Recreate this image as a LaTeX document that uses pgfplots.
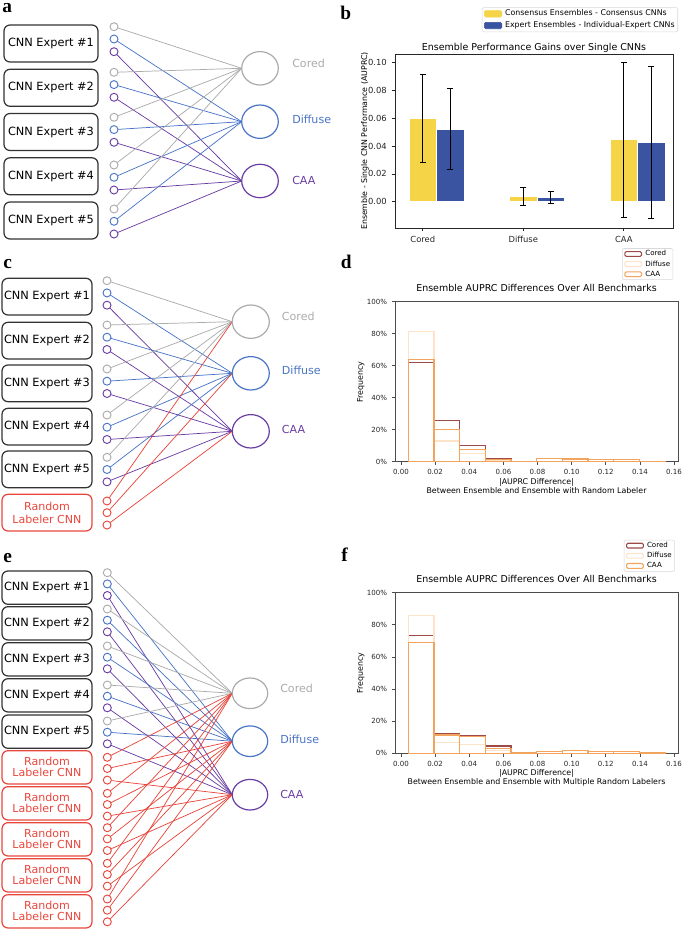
\documentclass[border=0pt]{standalone}
\usepackage{fontspec}
\setmainfont{DejaVu Sans}
\newfontfamily\letterfont{Liberation Serif}
\usepackage{pgfplots}
\pgfplotsset{compat=1.18}
\newcommand\fsz[2]{\fontsize{#1}{#2}\selectfont}
\definecolor{cgray}{HTML}{ABABAB}
\definecolor{cblue}{HTML}{4A74C6}
\definecolor{cpurp}{HTML}{6A3DA2}
\definecolor{cred}{HTML}{E8463C}
\definecolor{boxc}{HTML}{333333}
\definecolor{cyel}{HTML}{F5D547}
\definecolor{cblu}{HTML}{3A54A2}
\definecolor{hcored}{HTML}{9E4A48}
\definecolor{hdiff}{HTML}{FDE3C8}
\definecolor{hcaa}{HTML}{F2A35E}

\pgfplotsset{
  histaxis/.style={
    scale only axis, width=212.25pt, anchor=north west,
    xmin=-0.0035, xmax=0.1623, ymin=0, ymax=100,
    xtick={0,0.02,0.04,0.06,0.08,0.1,0.12,0.14,0.16},
    ytick={0,20,40,60,80,100},
    yticklabels={0\%,20\%,40\%,60\%,80\%,100\%},
    scaled x ticks=false,
    xticklabel style={/pgf/number format/.cd, fixed, fixed zerofill, precision=2},
    /pgf/number format/assume math mode=true,
    tick label style={font=\fsz{5.3}{6}, text=black!85},
    tick align=outside, tick pos=left,
    major tick length=2.4pt,
    axis line style={black!70, line width=0.6pt},
    every tick/.style={black!70, line width=0.5pt},
    title={Ensemble AUPRC Differences Over All Benchmarks},
    title style={font=\fsz{7.1}{8}, at={(axis description cs:0.5,1)}, anchor=base, yshift=1.5pt, inner sep=0pt},
    ylabel={Frequency},
    ylabel style={font=\fsz{5.9}{7}, at={(axis description cs:-0.121,0.5)}, anchor=center},
    xlabel style={font=\fsz{5.9}{6.8}, align=center, at={(axis description cs:0.5,-0.1)}, anchor=north, inner sep=0pt},
    legend style={anchor=south east, font=\fsz{5.3}{6}, draw=black!15, rounded corners=1pt, inner xsep=1.5pt, inner ysep=1pt, nodes={inner sep=0.6pt, text height=4pt, text depth=1pt}, row sep=1.4pt, /tikz/every odd column/.append style={column sep=1.8pt}},
    legend cell align=left,
  },
  hist/.style={ybar interval, fill=none, line width=0.9pt, forget plot},
}

\begin{document}
\begin{tikzpicture}
\useasboundingbox (0,0) rectangle (513.75pt,-697.5pt);
\begin{scope}[x=0.75pt,y=-0.75pt]
% panel letters
\tikzset{plet/.style={anchor=base west,inner sep=0pt,font=\letterfont\bfseries\fsz{14.5}{15}}}
\node[plet] at (2,13) {a};
\node[plet] at (340,20) {b};
\node[plet] at (3,268) {c};
\node[plet] at (340.5,269) {d};
\node[plet] at (3,562) {e};
\node[plet] at (341,561) {f};

% ---------------- Panel a ----------------
\foreach \t [count=\n] in {25,69.3,113.5,157.8,202}{
  \draw[boxc,line width=0.9pt,rounded corners=4.5pt] (4,\t) rectangle (98,\t+37);
  \node[font=\fsz{8.5}{10}] at (51,\t+18.5) {CNN Expert \#\n};
}
\foreach \y in {26.7,72.3,117.3,165,209}{
  \draw[cgray,line width=0.55pt] (114,\y) -- (241.7,68.3);
  \draw[cblue,line width=0.55pt] (114,\y+12.3) -- (241.7,121.7);
  \draw[cpurp,line width=0.55pt] (114,\y+25) -- (241.7,181);
}
\foreach \y in {26.7,72.3,117.3,165,209}{
  \draw[cgray,line width=0.7pt,fill=white] (114,\y) circle[radius=4];
  \draw[cblue,line width=0.7pt,fill=white] (114,\y+12.3) circle[radius=4];
  \draw[cpurp,line width=0.7pt,fill=white] (114,\y+25) circle[radius=4];
}
\draw[cgray,line width=0.9pt] (260,68.3) ellipse[x radius=18.3,y radius=16.7];
\draw[cblue,line width=0.9pt] (260,121.7) ellipse[x radius=18.3,y radius=16.7];
\draw[cpurp,line width=0.9pt] (260,181) ellipse[x radius=18.3,y radius=16.7];
\node[anchor=west,inner sep=0pt,text=cgray,font=\fsz{8.3}{10}] at (292,63.3) {Cored};
\node[anchor=west,inner sep=0pt,text=cblue,font=\fsz{8.3}{10}] at (292,119) {Diffuse};
\node[anchor=west,inner sep=0pt,text=cpurp,font=\fsz{8.3}{10}] at (292,180.7) {CAA};

% ---------------- Panel c ----------------
\foreach \t [count=\n] in {278.3,322.3,365,408.3,451}{
  \draw[boxc,line width=0.9pt,rounded corners=4.5pt] (2,\t) rectangle (92,\t+36.7);
  \node[font=\fsz{8.5}{10}] at (47,\t+18.3) {CNN Expert \#\n};
}
\draw[cred,line width=0.9pt,rounded corners=4.5pt] (2,494.3) rectangle (92,531);
\node[text=cred,align=center,font=\fsz{8.3}{9.75}] at (47,512.6) {Random\\Labeler CNN};
\foreach \y in {280.7,325,369,415,457.3}{
  \draw[cgray,line width=0.55pt] (107,\y) -- (232.3,321.7);
  \draw[cblue,line width=0.55pt] (107,\y+12.2) -- (232.3,373.3);
  \draw[cpurp,line width=0.55pt] (107,\y+24.5) -- (232.3,431.3);
}
\draw[cred,line width=0.55pt] (107,501) -- (232.3,321.7);
\draw[cred,line width=0.55pt] (107,512.7) -- (232.3,373.3);
\draw[cred,line width=0.55pt] (107,525) -- (232.3,431.3);
\foreach \y in {280.7,325,369,415,457.3}{
  \draw[cgray,line width=0.7pt,fill=white] (107,\y) circle[radius=4];
  \draw[cblue,line width=0.7pt,fill=white] (107,\y+12.2) circle[radius=4];
  \draw[cpurp,line width=0.7pt,fill=white] (107,\y+24.5) circle[radius=4];
}
\foreach \y in {501,512.7,525}{
  \draw[cred,line width=0.7pt,fill=white] (107,\y) circle[radius=4];
}
\draw[cgray,line width=0.9pt] (250.8,321.7) ellipse[x radius=18.5,y radius=16.7];
\draw[cblue,line width=0.9pt] (250.8,373.3) ellipse[x radius=18.5,y radius=16.7];
\draw[cpurp,line width=0.9pt] (250.8,431.3) ellipse[x radius=18.5,y radius=16.7];
\node[anchor=west,inner sep=0pt,text=cgray,font=\fsz{8.3}{10}] at (281.7,316) {Cored};
\node[anchor=west,inner sep=0pt,text=cblue,font=\fsz{8.3}{10}] at (281.7,370.7) {Diffuse};
\node[anchor=west,inner sep=0pt,text=cpurp,font=\fsz{8.3}{10}] at (281.7,429) {CAA};

% ---------------- Panel e ----------------
\foreach \t [count=\n] in {571,606.7,642.7,678.7,715}{
  \draw[boxc,line width=0.9pt,rounded corners=4.5pt] (2,\t) rectangle (92,\t+33.3);
  \node[font=\fsz{8.5}{10}] at (47,\t+16.6) {CNN Expert \#\n};
}
\foreach \t in {750.7,786.7,822.7,858.7,894.7}{
  \draw[cred,line width=0.9pt,rounded corners=4.5pt] (2,\t) rectangle (92,\t+33.3);
  \node[text=cred,align=center,font=\fsz{8.3}{8.25}] at (47,\t+16.6) {Random\\Labeler CNN};
}
\foreach \y in {572.7,609,646,685,721}{
  \draw[cgray,line width=0.55pt] (107.3,\y) -- (232.3,693.3);
  \draw[cblue,line width=0.55pt] (107.3,\y+11.2) -- (232.3,741.2);
  \draw[cpurp,line width=0.55pt] (107.3,\y+22.8) -- (232.3,794.7);
}
\foreach \y in {757.3,793.3,827.7,863.3,899}{
  \draw[cred,line width=0.55pt] (107.3,\y) -- (232.3,693.3);
  \draw[cred,line width=0.55pt] (107.3,\y+11.2) -- (232.3,741.2);
  \draw[cred,line width=0.55pt] (107.3,\y+22.8) -- (232.3,794.7);
}
\foreach \y in {572.7,609,646,685,721}{
  \draw[cgray,line width=0.7pt,fill=white] (107.3,\y) circle[radius=4];
  \draw[cblue,line width=0.7pt,fill=white] (107.3,\y+11.2) circle[radius=4];
  \draw[cpurp,line width=0.7pt,fill=white] (107.3,\y+22.8) circle[radius=4];
}
\foreach \y in {757.3,793.3,827.7,863.3,899}{
  \draw[cred,line width=0.7pt,fill=white] (107.3,\y) circle[radius=4];
  \draw[cred,line width=0.7pt,fill=white] (107.3,\y+11.2) circle[radius=4];
  \draw[cred,line width=0.7pt,fill=white] (107.3,\y+22.8) circle[radius=4];
}
\draw[cgray,line width=0.9pt] (250,693.3) ellipse[x radius=17.7,y radius=15.3];
\draw[cblue,line width=0.9pt] (250,741.2) ellipse[x radius=17.7,y radius=15.3];
\draw[cpurp,line width=0.9pt] (250,794.7) ellipse[x radius=17.7,y radius=15.3];
\node[anchor=west,inner sep=0pt,text=cgray,font=\fsz{8.3}{10}] at (280,688.3) {Cored};
\node[anchor=west,inner sep=0pt,text=cblue,font=\fsz{8.3}{10}] at (280,739) {Diffuse};
\node[anchor=west,inner sep=0pt,text=cpurp,font=\fsz{8.3}{10}] at (280,794.3) {CAA};
\end{scope}

% ---------------- Panel b ----------------
\begin{axis}[
  at={(296.25pt,-40.5pt)}, anchor=north west,
  scale only axis, width=208.5pt, height=130.5pt,
  xmin=-0.2766, xmax=2.4896, ymin=-0.019, ymax=0.1063,
  xtick={0,1,2}, xticklabels={Cored,Diffuse,CAA},
  ytick={0,0.02,0.04,0.06,0.08,0.1},
  scaled y ticks=false,
  yticklabel style={/pgf/number format/.cd, fixed, fixed zerofill, precision=2},
  /pgf/number format/assume math mode=true,
  tick label style={font=\fsz{6.3}{7}, text=black!85},
  tick align=outside, tick pos=left, major tick length=2.6pt,
  axis line style={black!85, line width=0.6pt},
  every tick/.style={black!85, line width=0.5pt},
  title={Ensemble Performance Gains over Single CNNs},
  title style={font=\fsz{7.1}{8}, at={(axis description cs:0.5,1)}, anchor=base, yshift=-3.2pt, inner sep=0pt},
  ylabel={Ensemble - Single CNN Performance (AUPRC)},
  ylabel style={font=\fsz{5.9}{7}, at={(axis description cs:-0.108,0.5)}, anchor=center},
  legend style={at={(1.018,1.126)}, anchor=south east, font=\fsz{5.9}{7}, draw=black!15, rounded corners=1pt, inner xsep=1.5pt, inner ysep=1pt, nodes={inner sep=0.8pt, text height=4.5pt, text depth=1.3pt}, row sep=1.4pt, /tikz/every odd column/.append style={column sep=1.5pt}},
  legend cell align=left,
]
\addplot[ybar, bar width=0.274, bar shift=0pt, fill=cyel, draw=white, line width=0.3pt, forget plot,
  error bars/.cd, y dir=both, y explicit, error bar style={black, line width=0.7pt},
  error mark options={black, rotate=90, mark size=2.2pt, line width=0.7pt}]
  coordinates {(0,0.0598) +- (0,0.0318) (1,0.0036) +- (0,0.0066) (2,0.0447) +- (0,0.0558)};
\addplot[ybar, bar width=0.274, bar shift=0pt, fill=cblu, draw=white, line width=0.3pt, forget plot,
  error bars/.cd, y dir=both, y explicit, error bar style={black, line width=0.7pt},
  error mark options={black, rotate=90, mark size=2.2pt, line width=0.7pt}]
  coordinates {(0.274,0.0521) +- (0,0.0292) (1.274,0.0032) +- (0,0.0043) (2.274,0.0426) +- (0,0.0546)};
\addlegendimage{legend image code/.code={\fill[cyel] (0pt,-2.4pt) rectangle (13pt,2.4pt);}}
\addlegendentry{Consensus Ensembles - Consensus CNNs}
\addlegendimage{legend image code/.code={\fill[cblu] (0pt,-2.4pt) rectangle (13pt,2.4pt);}}
\addlegendentry{Expert Ensembles - Individual-Expert CNNs}
\end{axis}

% ---------------- Panel d ----------------
\begin{axis}[histaxis,
  at={(296.25pt,-226.3pt)}, height=120pt,
  xlabel={|AUPRC Difference|\\Between Ensemble and Ensemble with Random Labeler},
  legend style={at={(0.983,1.136)}},
]
\addplot[hist, draw=hcored] coordinates {(0.0043,61.9) (0.01934,26.0) (0.03438,10.2) (0.04942,1.9) (0.06446,0) (0.0795,0) (0.09454,0) (0.10958,0) (0.12462,0) (0.13966,0) (0.1547,0)};
\addplot[hist, draw=hdiff] coordinates {(0.0043,81.2) (0.01934,12.9) (0.03438,5.2) (0.04942,0.7) (0.06446,0) (0.0795,0) (0.09454,0) (0.10958,0) (0.12462,0) (0.13966,0) (0.1547,0)};
\addplot[hist, draw=hcaa] coordinates {(0.0043,63.7) (0.01934,20.2) (0.03438,7.7) (0.04942,1.3) (0.06446,0) (0.0795,2.1) (0.09454,1.7) (0.10958,1.25) (0.12462,1.25) (0.13966,0.3) (0.1547,0)};
\addlegendimage{legend image code/.code={\draw[hcored,line width=0.8pt] (0pt,-1.8pt) rectangle (12.5pt,1.8pt);}}
\addlegendentry{Cored}
\addlegendimage{legend image code/.code={\draw[hdiff,line width=0.8pt] (0pt,-1.8pt) rectangle (12.5pt,1.8pt);}}
\addlegendentry{Diffuse}
\addlegendimage{legend image code/.code={\draw[hcaa,line width=0.8pt] (0pt,-1.8pt) rectangle (12.5pt,1.8pt);}}
\addlegendentry{CAA}
\end{axis}

% ---------------- Panel f ----------------
\begin{axis}[histaxis,
  at={(296.25pt,-444.5pt)}, height=120.5pt,
  xlabel={|AUPRC Difference|\\Between Ensemble and Ensemble with Multiple Random Labelers},
  legend style={at={(0.989,1.131)}},
]
\addplot[hist, draw=hcored] coordinates {(0.0043,73.2) (0.01934,12.0) (0.03438,11.2) (0.04942,4.6) (0.06446,0) (0.0795,0) (0.09454,0) (0.10958,0) (0.12462,0) (0.13966,0) (0.1547,0)};
\addplot[hist, draw=hdiff] coordinates {(0.0043,85.9) (0.01934,6.8) (0.03438,5.6) (0.04942,1.9) (0.06446,0) (0.0795,0) (0.09454,0) (0.10958,0) (0.12462,0) (0.13966,0) (0.1547,0)};
\addplot[hist, draw=hcaa] coordinates {(0.0043,69.1) (0.01934,11.4) (0.03438,10.4) (0.04942,3.1) (0.06446,0.6) (0.0795,1.25) (0.09454,1.9) (0.10958,1.25) (0.12462,1.0) (0.13966,0.4) (0.1547,0)};
\addlegendimage{legend image code/.code={\draw[hcored,line width=0.8pt] (0pt,-1.8pt) rectangle (12.5pt,1.8pt);}}
\addlegendentry{Cored}
\addlegendimage{legend image code/.code={\draw[hdiff,line width=0.8pt] (0pt,-1.8pt) rectangle (12.5pt,1.8pt);}}
\addlegendentry{Diffuse}
\addlegendimage{legend image code/.code={\draw[hcaa,line width=0.8pt] (0pt,-1.8pt) rectangle (12.5pt,1.8pt);}}
\addlegendentry{CAA}
\end{axis}
\end{tikzpicture}
\end{document}
